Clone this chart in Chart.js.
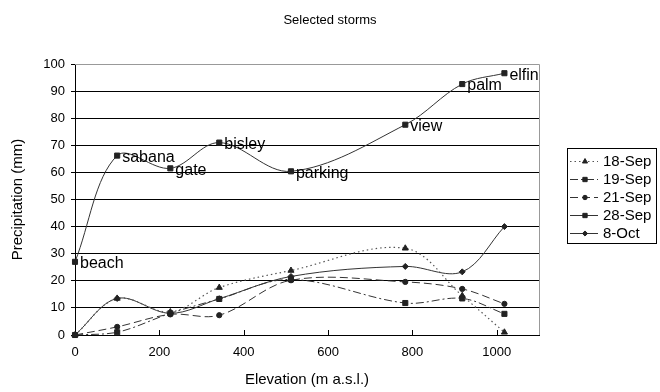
<!DOCTYPE html>
<html>
<head>
<meta charset="utf-8">
<script src="https://cdn.jsdelivr.net/npm/chart.js@4/dist/chart.umd.min.js"></script>
<style>
html,body{margin:0;padding:0;background:#fff;}
#wrap{width:660px;height:392px;position:relative;}
</style>
</head>
<body>
<div id="wrap"><canvas id="c" width="660" height="392"></canvas></div>
<script>
const elevations = [0, 100, 226, 342, 512, 783, 918, 1018];
const siteLabels = ['beach', 'sabana', 'gate', 'bisley', 'parking', 'view', 'palm', 'elfin'];
const seriesNames = ['18-Sep', '19-Sep', '21-Sep', '28-Sep', '8-Oct'];
const sep18 = [0, 13.5, 8.5, 17.5, 23.8, 32, 14.5, 1];
const sep19 = [0, 1, 8, 13.3, 20.5, 11.8, 13.5, 7.8];
const sep21 = [0, 3, 7.6, 7.3, 20.2, 19.6, 17, 11.5];
const sep28 = [27, 66.2, 61.5, 71, 60.4, 77.6, 92.6, 96.6];
const oct8 = [0, 13.5, 8, 13.4, 21.6, 25.3, 23.3, 40];
const yTicks = [0, 10, 20, 30, 40, 50, 60, 70, 80, 90, 100];
const xTicks = [0, 200, 400, 600, 800, 1000];

const FONT = 'Liberation Sans, Arial, sans-serif';
const styles = [
  {dash: [1.5, 3], point: 'triangle', r: 3.5, color: '#555', width: 1.2},
  {dash: [8, 3, 2, 3], point: 'rect', r: 3.6, color: '#333', width: 1},
  {dash: [8, 4], point: 'circle', r: 2.6, color: '#333', width: 1},
  {dash: [], point: 'rect', r: 3.6, color: '#333', width: 1},
  {dash: [], point: 'rectRot', r: 3, color: '#333', width: 1}
];
const seriesValues = [sep18, sep19, sep21, sep28, oct8];

function toPts(vals) { return vals.map((v, i) => ({x: elevations[i], y: v})); }

const datasets = seriesValues.map((vals, i) => ({
  label: seriesNames[i],
  data: toPts(vals),
  borderColor: styles[i].color,
  borderWidth: styles[i].width,
  borderDash: styles[i].dash,
  pointStyle: styles[i].point,
  pointRadius: styles[i].r,
  pointBackgroundColor: '#222',
  pointBorderColor: '#222',
  pointBorderWidth: 1,
  tension: 0.35,
  clip: false,
  fill: false,
  yAxisID: 'y'
}));

const decor = {
  id: 'decor',
  beforeDatasetsDraw(chart) {
    const ctx = chart.ctx, a = chart.chartArea;
    ctx.save();
    ctx.strokeStyle = '#999';
    ctx.lineWidth = 1;
    ctx.beginPath();
    ctx.moveTo(a.left, a.top + 0.5); ctx.lineTo(a.right + 0.5, a.top + 0.5);
    ctx.lineTo(a.right + 0.5, a.bottom);
    ctx.stroke();
    const xs = chart.scales.x;
    ctx.strokeStyle = '#000';
    ctx.beginPath();
    xTicks.forEach(v => {
      const px = Math.round(xs.getPixelForValue(v)) + 0.5;
      ctx.moveTo(px, a.bottom); ctx.lineTo(px, a.bottom - 5);
    });
    ctx.stroke();
    ctx.restore();
  },
  afterDatasetsDraw(chart) {
    const ctx = chart.ctx;
    ctx.save();
    const meta = chart.getDatasetMeta(3);
    ctx.font = '16px ' + FONT;
    ctx.fillStyle = '#000';
    ctx.textBaseline = 'middle';
    ctx.textAlign = 'left';
    meta.data.forEach((pt, i) => {
      ctx.fillText(siteLabels[i], pt.x + 5, pt.y + 2);
    });
    const lx = 567, ly = 148, lw = 89, lh = 95;
    ctx.strokeStyle = '#000';
    ctx.lineWidth = 1;
    ctx.strokeRect(lx + 0.5, ly + 0.5, lw, lh);
    seriesNames.forEach((name, i) => {
      const y = ly + 13 + i * 18;
      const s = styles[i];
      ctx.save();
      ctx.strokeStyle = s.color;
      ctx.lineWidth = s.width;
      ctx.setLineDash(s.dash);
      ctx.beginPath();
      ctx.moveTo(lx + 3, y + 0.5); ctx.lineTo(lx + 31, y + 0.5);
      ctx.stroke();
      ctx.restore();
      ctx.fillStyle = '#222';
      ctx.strokeStyle = '#222';
      ctx.setLineDash([]);
      Chart.helpers.drawPoint(ctx, {pointStyle: s.point, radius: s.r * 0.85, rotation: 0, borderWidth: 1}, lx + 18, y + 0.5);
      ctx.fillStyle = '#000';
      ctx.font = '15px ' + FONT;
      ctx.textBaseline = 'middle';
      ctx.fillText(name, lx + 36, y + 1);
    });
    ctx.restore();
  }
};

new Chart(document.getElementById('c'), {
  type: 'line',
  data: {datasets},
  options: {
    responsive: false,
    animation: false,
    devicePixelRatio: 1,
    layout: {padding: {left: 0, right: 0, top: 0, bottom: 0}},
    plugins: {
      legend: {display: false},
      tooltip: {enabled: false},
      title: {
        display: true,
        text: 'Selected storms',
        color: '#000',
        font: {family: FONT, size: 13, weight: 'normal'},
        padding: {top: 13, bottom: 35.4}
      }
    },
    scales: {
      x: {
        type: 'linear',
        min: 0, max: 1100,
        afterBuildTicks(s) { s.ticks = xTicks.map(v => ({value: v})); },
        afterFit(s) { s.height = 57; },
        grid: {display: false, drawTicks: false},
        border: {display: true, color: '#000', width: 1},
        ticks: {color: '#000', font: {family: FONT, size: 13}, padding: 10, maxRotation: 0, autoSkip: false, callback: v => String(v)},
        title: {display: true, text: 'Elevation (m a.s.l.)', color: '#000', font: {family: FONT, size: 15}, padding: {top: 0, bottom: 3}}
      },
      y: {
        type: 'linear',
        position: 'left',
        min: 0, max: 100,
        afterBuildTicks(s) { s.ticks = yTicks.map(v => ({value: v})); },
        afterFit(s) { s.width = 75; },
        grid: {color: ctx => (ctx.tick && ctx.tick.value === 100) ? '#999' : '#000', lineWidth: 1, drawTicks: true, tickLength: 4, tickColor: '#000'},
        border: {display: true, color: '#000', width: 1},
        ticks: {color: '#000', font: {family: FONT, size: 13}, padding: 6, callback: v => String(v)},
        title: {display: true, text: 'Precipitation (mm)', color: '#000', font: {family: FONT, size: 15}, padding: {top: 9, bottom: 0}}
      },
      side: {
        type: 'linear',
        position: 'right',
        display: true,
        min: 0, max: 1,
        afterFit(s) { s.width = 121; },
        grid: {display: false, drawTicks: false},
        border: {display: false},
        ticks: {display: false}
      }
    }
  },
  plugins: [decor]
});
</script>
</body>
</html>
